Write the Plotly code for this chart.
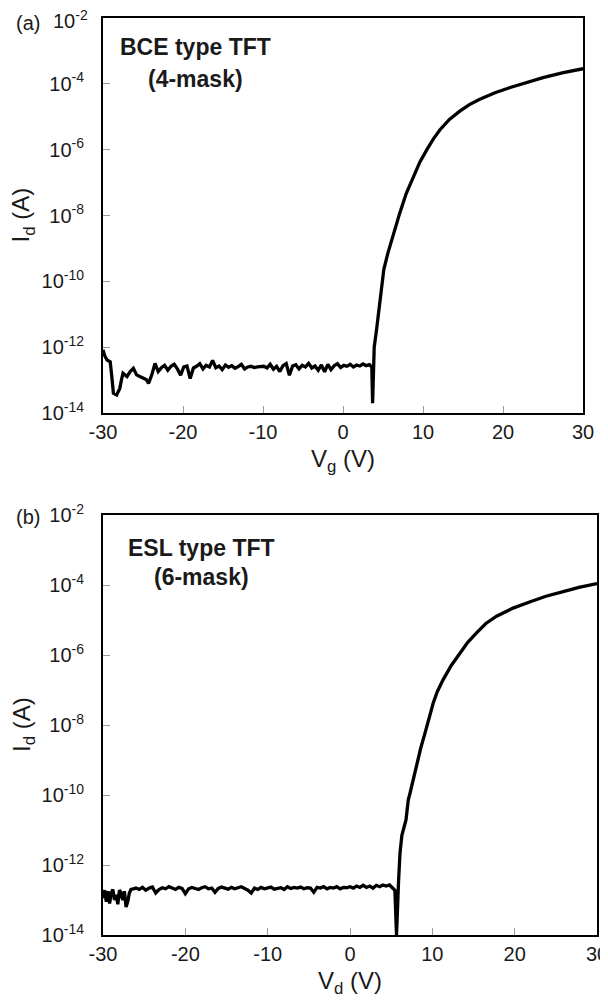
import plotly.graph_objects as go

# ---------------- data ----------------
# (a) BCE type TFT : transfer curve, log10(Id [A]) vs Vg [V]
bce_vg_start = [-30.0, -29.8, -29.5, -29.1, -28.9, -28.7, -28.3, -27.9, -27.7, -27.5,
                -27.0, -26.6, -26.2, -25.8, -25.4, -25.0, -24.6, -24.3, -23.9, -23.5, -23.1]
bce_log_start = [-12.08, -12.25, -12.39, -12.44, -12.89, -13.40, -13.45, -13.25, -13.00, -12.79,
                 -12.89, -12.74, -12.64, -12.84, -12.89, -12.94, -12.98, -13.10, -12.84, -12.49, -12.74]

bce_vg_off = [-22.7, -22.3, -21.9, -21.5, -21.1, -20.7, -20.3, -19.9, -19.5, -19.1,
              -18.7, -18.3, -17.9, -17.5, -17.1, -16.7, -16.3, -15.9, -15.5, -15.1,
              -14.7, -14.3, -13.9, -13.5, -13.1, -12.7, -12.3, -11.9, -11.5, -11.1,
              -10.7, -10.3, -9.9, -9.5, -9.1, -8.7, -8.3, -7.9, -7.5, -7.1,
              -6.7, -6.3, -5.9, -5.5, -5.1, -4.7, -4.3, -3.9, -3.5, -3.1,
              -2.7, -2.3, -1.9, -1.5, -1.1, -0.7, -0.3, 0.1, 0.5, 0.9,
              1.3, 1.7, 2.1, 2.5, 2.9, 3.3]
bce_log_off = [-12.62, -12.55, -12.70, -12.58, -12.52, -12.66, -12.85, -12.60, -12.57, -12.95,
               -12.63, -12.58, -12.50, -12.66, -12.55, -12.60, -12.40, -12.62, -12.57, -12.68,
               -12.54, -12.61, -12.56, -12.64, -12.59, -12.52, -12.66, -12.60, -12.58, -12.62,
               -12.60, -12.60, -12.58, -12.63, -12.52, -12.67, -12.58, -12.74, -12.56, -12.50,
               -12.85, -12.57, -12.53, -12.66, -12.55, -12.60, -12.49, -12.63, -12.57, -12.70,
               -12.54, -12.75, -12.52, -12.68, -12.56, -12.50, -12.62, -12.55, -12.58, -12.52,
               -12.60, -12.54, -12.57, -12.51, -12.56, -12.53]

bce_vg_on = [3.5, 3.6, 3.7, 3.8, 3.9, 4.2, 4.4, 4.8, 5.1, 5.6, 6.1, 6.6, 7.1, 7.9, 8.8,
             9.6, 10.5, 11.3, 12.1, 13.3, 14.6, 15.8, 17.1, 19.0, 20.9, 23.0, 25.0, 27.4, 30.0]
bce_log_on = [-12.56, -12.60, -13.70, -12.60, -12.00, -11.45, -11.07, -10.35, -9.64, -9.15,
              -8.73, -8.30, -7.92, -7.33, -6.80, -6.38, -5.99, -5.67, -5.40, -5.08, -4.83,
              -4.63, -4.47, -4.27, -4.11, -3.95, -3.81, -3.67, -3.54]

# (b) ESL type TFT
esl_v_start = [-30.0, -29.8, -29.6, -29.4, -29.2, -29.0, -28.8, -28.6, -28.4, -28.2,
               -28.0, -27.8, -27.6, -27.4, -27.2, -27.0, -26.8, -26.6, -26.3]
esl_log_start = [-12.95, -12.72, -13.05, -12.75, -13.10, -12.80, -12.70, -13.00, -12.85, -13.12,
                 -12.72, -12.80, -13.00, -12.75, -13.20, -13.05, -12.80, -12.70, -12.68]

esl_v_off = [-26.0, -25.6, -25.2, -24.8, -24.4, -24.0, -23.6, -23.2, -22.8, -22.4,
             -22.0, -21.6, -21.2, -20.8, -20.4, -20.0, -19.6, -19.2, -18.8, -18.4,
             -18.0, -17.6, -17.2, -16.8, -16.4, -16.0, -15.6, -15.2, -14.8, -14.4,
             -14.0, -13.6, -13.2, -12.8, -12.4, -12.0, -11.6, -11.2, -10.8, -10.4,
             -10.0, -9.6, -9.2, -8.8, -8.4, -8.0, -7.6, -7.2, -6.8, -6.4,
             -6.0, -5.6, -5.2, -4.8, -4.4, -4.0, -3.6, -3.2, -2.8, -2.4,
             -2.0, -1.6, -1.2, -0.8, -0.4, 0.0, 0.4, 0.8, 1.2, 1.6,
             2.0, 2.4, 2.8, 3.2, 3.6, 4.0, 4.4, 4.8, 5.2]
esl_log_off = [-12.66, -12.70, -12.64, -12.72, -12.66, -12.63, -12.80, -12.70, -12.65, -12.68,
               -12.62, -12.66, -12.70, -12.64, -12.67, -12.82, -12.68, -12.64, -12.66, -12.70,
               -12.65, -12.62, -12.68, -12.66, -12.78, -12.67, -12.63, -12.66, -12.69, -12.64,
               -12.68, -12.65, -12.62, -12.67, -12.72, -12.80, -12.66, -12.70, -12.64, -12.68,
               -12.66, -12.63, -12.69, -12.66, -12.65, -12.70, -12.62, -12.67, -12.64, -12.66,
               -12.63, -12.68, -12.65, -12.66, -12.78, -12.64, -12.66, -12.62, -12.68, -12.64,
               -12.66, -12.62, -12.68, -12.64, -12.65, -12.62, -12.66, -12.60, -12.64, -12.58,
               -12.64, -12.60, -12.66, -12.58, -12.62, -12.57, -12.60, -12.57, -12.66]

esl_v_on = [5.45, 5.65, 5.8, 5.9, 6.07, 6.3, 6.8, 7.08, 7.29, 8.1, 8.6, 9.1, 9.6, 10.1,
            10.6, 11.3, 12.3, 13.4, 14.3, 15.4, 16.5, 17.8, 19.8, 21.9, 23.8, 25.9, 27.8, 30.0]
esl_log_on = [-12.72, -14.00, -12.90, -12.45, -11.67, -11.15, -10.71, -10.14, -9.95, -9.10,
              -8.65, -8.24, -7.80, -7.38, -7.05, -6.71, -6.30, -5.95, -5.64, -5.36, -5.10,
              -4.89, -4.66, -4.48, -4.32, -4.19, -4.07, -3.96]

x_ticks = [-30, -20, -10, 0, 10, 20, 30]
y_exponents = [-14, -12, -10, -8, -6, -4, -2]

# ---------------- assemble ----------------
bce_v = bce_vg_start + bce_vg_off + bce_vg_on
bce_id = [10 ** v for v in bce_log_start + bce_log_off + bce_log_on]
esl_v = esl_v_start + esl_v_off + esl_v_on
esl_id = [10 ** v for v in esl_log_start + esl_log_off + esl_log_on]

FONT = "Arial, Liberation Sans, Helvetica, sans-serif"
TXT = "#1a1a1a"

fig = go.Figure()
fig.add_trace(go.Scatter(x=bce_v, y=bce_id, mode="lines",
                         line=dict(color="black", width=3.3), xaxis="x", yaxis="y",
                         showlegend=False))
fig.add_trace(go.Scatter(x=esl_v, y=esl_id, mode="lines",
                         line=dict(color="black", width=3.3), xaxis="x2", yaxis="y2",
                         showlegend=False))

y_tickvals = [10 ** e for e in y_exponents]
y_ticktext = ["10<sup>%d</sup>" % e for e in y_exponents]
# in panel (a) the top label sits a little below its tick (drawn separately below)
y_ticktext_a = [t if e != -2 else "" for e, t in zip(y_exponents, y_ticktext)]

common_x = dict(range=[-30, 30], tickvals=x_ticks, ticktext=[str(t) for t in x_ticks],
                ticks="inside", ticklen=7, tickwidth=1, tickcolor="#9a9a9a",
                showline=True, linecolor="black", linewidth=2, mirror=True,
                showgrid=False, zeroline=False, automargin=False,
                ticklabeloverflow="allow",
                tickfont=dict(size=20, color=TXT, family=FONT))
common_y = dict(type="log", range=[-14, -2], tickvals=y_tickvals,
                ticks="inside", ticklen=7, tickwidth=1, tickcolor="#9a9a9a",
                showline=True, linecolor="black", linewidth=2, mirror=True,
                showgrid=False, zeroline=False, ticklabelstandoff=13, automargin=False,
                ticklabeloverflow="allow",
                tickfont=dict(size=20, color=TXT, family=FONT))

# the page body adds an 8 px offset; the figure is sized so the plot lands where the reference has it
fig.update_layout(
    width=600, height=992,
    margin=dict(l=95, r=11, t=10, b=65),
    paper_bgcolor="white", plot_bgcolor="white",
    font=dict(family=FONT, color=TXT),
    xaxis=dict(domain=[0, 0.9717], anchor="y",
               title=dict(text="V<sub>g</sub> (V)", font=dict(size=24, family=FONT, color=TXT),
                          standoff=8),
               **common_x),
    yaxis=dict(domain=[0.5692, 1.0], anchor="x", ticktext=y_ticktext_a, **common_y),
    xaxis2=dict(domain=[0, 1], anchor="y2",
                title=dict(text="V<sub>d</sub> (V)", font=dict(size=24, family=FONT, color=TXT),
                           standoff=8),
                **common_x),
    yaxis2=dict(domain=[0, 0.458], anchor="x2", ticktext=y_ticktext, **common_y),
)

# top tick label of panel (a)
fig.add_annotation(x=(90 - 103) / 494, y=(927 - 12) / 917, xref="paper", yref="paper",
                   text=y_ticktext[-1], showarrow=False, xanchor="right", yanchor="middle",
                   font=dict(size=20, family=FONT, color=TXT))

# y-axis titles
for ydom in ((0.5692 + 1.0) / 2, 0.458 / 2):
    fig.add_annotation(x=(23 - 103) / 494, y=ydom, xref="paper", yref="paper",
                       text="I<sub>d</sub> (A)", textangle=-90, showarrow=False,
                       xanchor="center", yanchor="middle",
                       font=dict(size=24, family=FONT, color=TXT))

bold = dict(size=23, family=FONT, color=TXT)
fig.add_annotation(x=-18.4, y=-2.88, xref="x", yref="y", text="<b>BCE type TFT</b>",
                   showarrow=False, font=bold)
fig.add_annotation(x=-18.4, y=-3.86, xref="x", yref="y", text="<b>(4-mask)</b>",
                   showarrow=False, font=bold)
fig.add_annotation(x=-18.0, y=-2.94, xref="x2", yref="y2", text="<b>ESL type TFT</b>",
                   showarrow=False, font=bold)
fig.add_annotation(x=-18.0, y=-3.77, xref="x2", yref="y2", text="<b>(6-mask)</b>",
                   showarrow=False, font=bold)

# panel labels
fig.add_annotation(x=(14 - 103) / 494, y=(935 - 23) / 917, xref="paper", yref="paper",
                   text="(a)", showarrow=False, xanchor="left", yanchor="middle",
                   font=dict(size=20, family=FONT, color=TXT))
fig.add_annotation(x=(14 - 103) / 494, y=(935 - 517) / 917, xref="paper", yref="paper",
                   text="(b)", showarrow=False, xanchor="left", yanchor="middle",
                   font=dict(size=20, family=FONT, color=TXT))

fig.write_html("out.html")
